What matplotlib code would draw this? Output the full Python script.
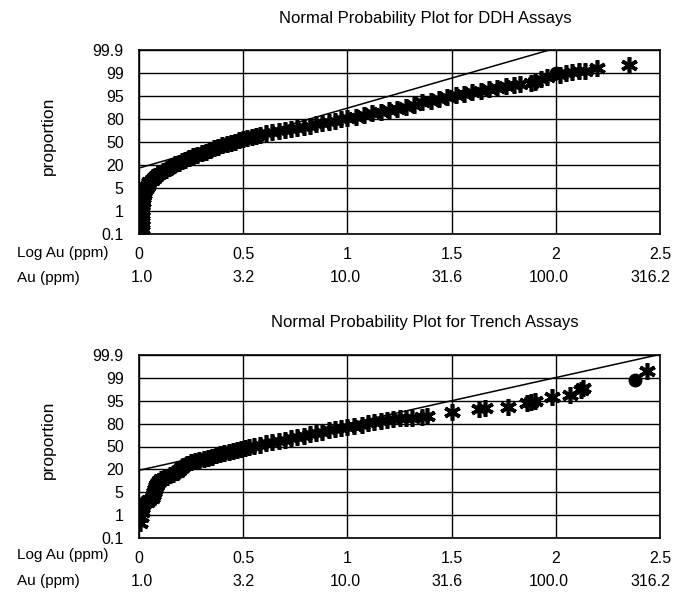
import matplotlib
matplotlib.use("Agg")
import matplotlib.pyplot as plt
import numpy as np

plt.rcParams['font.family'] = ['Liberation Sans', 'DejaVu Sans']

# ---- data (x = log10 Au ppm, y = normal score) ----
ddh_log_au = [0.01, 0.012, 0.012, 0.013, 0.014, 0.015, 0.016, 0.018, 0.021, 0.025,
              0.03, 0.036, 0.043, 0.05, 0.06, 0.07, 0.08, 0.09, 0.10, 0.115,
              0.13, 0.145, 0.16, 0.175, 0.19, 0.205, 0.22, 0.24, 0.26, 0.28,
              0.30, 0.32, 0.34, 0.36, 0.38, 0.40, 0.42, 0.44, 0.46, 0.48,
              0.50, 0.52, 0.54, 0.56, 0.58, 0.61, 0.64, 0.67, 0.70, 0.73,
              0.76, 0.79, 0.82, 0.85, 0.88, 0.91, 0.94, 0.97, 1.00, 1.04,
              1.08, 1.12, 1.16, 1.20, 1.24, 1.28, 1.32, 1.36, 1.40, 1.44,
              1.48, 1.52, 1.56, 1.60, 1.64, 1.68, 1.72, 1.76, 1.80, 1.83,
              1.88, 1.90, 1.93, 1.96, 2.02, 2.05, 2.08, 2.11, 2.14, 2.20, 2.35]
ddh_z = [-3.0, -2.85, -2.7, -2.55, -2.4, -2.25, -2.1, -1.95, -1.82, -1.7,
         -1.58, -1.48, -1.39, -1.31, -1.23, -1.16, -1.1, -1.05, -1.01, -0.96,
         -0.9, -0.84, -0.78, -0.73, -0.68, -0.63, -0.58, -0.53, -0.47, -0.42,
         -0.37, -0.31, -0.26, -0.2, -0.15, -0.11, -0.07, -0.03, 0.01, 0.05,
         0.09, 0.13, 0.17, 0.21, 0.24, 0.28, 0.32, 0.35, 0.38, 0.42,
         0.45, 0.49, 0.53, 0.58, 0.62, 0.66, 0.7, 0.74, 0.78, 0.83,
         0.88, 0.93, 0.98, 1.04, 1.09, 1.15, 1.21, 1.29, 1.35, 1.41,
         1.47, 1.54, 1.58, 1.62, 1.66, 1.72, 1.77, 1.81, 1.86, 1.90,
         1.93, 1.97, 2.05, 2.12, 2.2, 2.24, 2.27, 2.3, 2.33, 2.41, 2.51]
ddh_dot_log_au = [2.0]
ddh_dot_z = [2.25]
ddh_fit = (-0.85, 1.955)   # intercept, slope

trench_log_au = [0.005, 0.01, 0.012, 0.015, 0.02, 0.04, 0.05, 0.06, 0.065, 0.07,
                 0.075, 0.08, 0.087, 0.095, 0.105, 0.12, 0.135, 0.15, 0.165, 0.18,
                 0.19, 0.20, 0.21, 0.23, 0.25, 0.27, 0.29, 0.31, 0.33, 0.35,
                 0.37, 0.39, 0.41, 0.43, 0.45, 0.47, 0.49, 0.51, 0.53, 0.55,
                 0.58, 0.61, 0.64, 0.67, 0.70, 0.73, 0.76, 0.79, 0.82, 0.85,
                 0.88, 0.91, 0.94, 0.97, 1.00, 1.03, 1.07, 1.10, 1.13, 1.16,
                 1.19, 1.22, 1.25, 1.28, 1.31, 1.36, 1.38, 1.50, 1.63, 1.66,
                 1.77, 1.86, 1.88, 1.90, 1.98, 2.07, 2.12, 2.13, 2.44]
trench_z = [-2.5, -2.3, -2.15, -2.0, -1.9, -1.82, -1.75, -1.68, -1.6, -1.5,
            -1.4, -1.3, -1.22, -1.14, -1.08, -1.03, -0.99, -0.95, -0.9, -0.83,
            -0.76, -0.7, -0.65, -0.58, -0.52, -0.47, -0.43, -0.4, -0.37, -0.33,
            -0.29, -0.25, -0.21, -0.18, -0.15, -0.12, -0.09, -0.05, -0.01, 0.02,
            0.06, 0.11, 0.15, 0.18, 0.22, 0.27, 0.31, 0.35, 0.4, 0.44,
            0.49, 0.53, 0.57, 0.61, 0.65, 0.68, 0.71, 0.76, 0.8, 0.84,
            0.88, 0.9, 0.92, 0.93, 0.94, 0.98, 0.99, 1.14, 1.22, 1.25,
            1.31, 1.42, 1.45, 1.48, 1.62, 1.69, 1.86, 1.93, 2.48]
trench_dot_log_au = [2.38]
trench_dot_z = [2.18]
trench_fit = (-0.78, 1.52)

y_tick_labels = ['0.1', '1', '5', '20', '50', '80', '95', '99', '99.9']
log_tick_labels = ['0', '0.5', '1', '1.5', '2', '2.5']
au_tick_labels = ['1.0', '3.2', '10.0', '31.6', '100.0', '316.2']
titles = ['Normal Probability Plot for DDH Assays',
          'Normal Probability Plot for Trench Assays']

W, H = 673, 595
fig = plt.figure(figsize=(W / 100, H / 100), dpi=100)

star = (6, 2, 0)
FS = 11.5

def panel(rect, title, title_y, xs, zs, dx, dz, fit, au_row_y, log_row_y, ylab_y):
    ax = fig.add_axes(rect)
    ax.set_xlim(0, 2.5)
    ax.set_ylim(-3, 3)
    yt = np.linspace(-3, 3, len(y_tick_labels))
    ax.set_yticks(yt)
    ax.set_yticklabels(y_tick_labels, fontsize=FS)
    xt = np.linspace(0, 2.5, len(log_tick_labels))
    ax.set_xticks(xt)
    ax.set_xticklabels(log_tick_labels, fontsize=FS)
    ax.tick_params(axis='both', length=0)
    ax.tick_params(axis='y', pad=11)
    ax.tick_params(axis='x', pad=9.5)
    ax.grid(True, color='black', linewidth=1.0)
    ax.set_axisbelow(True)
    for s in ax.spines.values():
        s.set_color('black')
        s.set_linewidth(1.2)
    a, b = fit
    lx = np.array([0.0, 2.5])
    ax.plot(lx, a + b * lx, color='black', linewidth=1.1, zorder=3)
    ax.plot(xs, zs, linestyle='none', marker=star, markersize=12,
            markeredgewidth=2.6, color='black', zorder=4)
    ax.plot(dx, dz, linestyle='none', marker='o', markersize=9,
            color='black', zorder=4)
    # second row of x labels (Au ppm)
    for i, lab in enumerate(au_tick_labels):
        fig.text((142 + 101.6 * i) / W, 1 - au_row_y / H, lab,
                 ha='center', va='center', fontsize=FS)
    fig.text(17 / W, 1 - log_row_y / H, 'Log Au (ppm)', ha='left', va='center', fontsize=11)
    fig.text(17 / W, 1 - au_row_y / H, 'Au (ppm)', ha='left', va='center', fontsize=11)
    fig.text(48 / W, 1 - ylab_y / H, 'proportion', rotation=90, ha='center',
             va='center', fontsize=12.5)
    fig.text(425 / W, 1 - title_y / H, title, ha='center', va='center', fontsize=12)
    return ax

top_rect = [139 / W, 1 - 234 / H, 521 / W, 184 / H]
bot_rect = [139 / W, 1 - 538 / H, 521 / W, 183 / H]

panel(top_rect, titles[0], 18, ddh_log_au, ddh_z, ddh_dot_log_au, ddh_dot_z,
      ddh_fit, 278, 253, 136)
panel(bot_rect, titles[1], 323, trench_log_au, trench_z, trench_dot_log_au,
      trench_dot_z, trench_fit, 581, 555, 440)

fig.savefig('out.png', dpi=100)
